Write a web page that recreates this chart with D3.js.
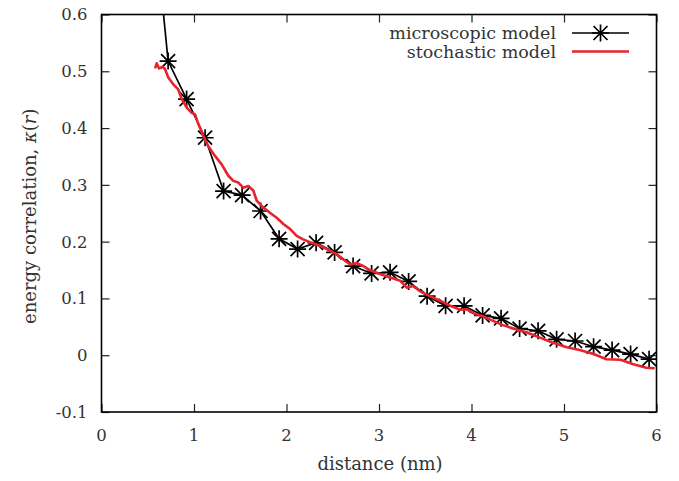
<!DOCTYPE html>
<html>
<head>
<meta charset="utf-8">
<script src="https://cdn.jsdelivr.net/npm/d3@7"></script>
<style>
    body { margin: 0; background: #fff; }
</style>
</head>
<body>
<div id="chart"></div>
<script>
// Define variables
// ============================================================================
const W = 679, H = 481,
    margin = {top: 14.5, right: 22.5, bottom: 69, left: 101.5},
    width = W - margin.left - margin.right,
    height = H - margin.top - margin.bottom;

const xTicks = [0, 1, 2, 3, 4, 5, 6];
const yTicks = [-0.1, 0, 0.1, 0.2, 0.3, 0.4, 0.5, 0.6];
const yTickLabels = ["-0.1", "0", "0.1", "0.2", "0.3", "0.4", "0.5", "0.6"];

// microscopic model (black, stars)
const microX = [0.52, 0.72, 0.92, 1.12, 1.32, 1.52, 1.72, 1.92, 2.12, 2.32, 2.52, 2.72, 2.92, 3.12,
    3.32, 3.52, 3.72, 3.92, 4.12, 4.32, 4.52, 4.72, 4.92, 5.12, 5.32, 5.52, 5.72, 5.92];
const microY = [0.85, 0.518, 0.451, 0.383, 0.289, 0.282, 0.254, 0.205, 0.187, 0.198, 0.181, 0.157, 0.144, 0.146,
    0.130, 0.104, 0.087, 0.087, 0.070, 0.065, 0.047, 0.043, 0.028, 0.025, 0.015, 0.009, 0.002, -0.007];

// stochastic model (red line)
const stochX = [0.578, 0.597, 0.622, 0.661, 0.686, 0.722, 0.776, 0.830, 0.867, 0.921, 0.975, 1.011, 1.047,
    1.101, 1.155, 1.227, 1.299, 1.371, 1.425, 1.479, 1.533, 1.587, 1.641, 1.678, 1.75, 1.82, 1.894, 1.966,
    2.04, 2.11, 2.18, 2.254, 2.326, 2.40, 2.47, 2.54, 2.61, 2.69, 2.76, 2.83, 2.90, 3.01, 3.12, 3.23, 3.30,
    3.37, 3.44, 3.55, 3.66, 3.77, 3.88, 3.95, 4.02, 4.13, 4.24, 4.34, 4.45, 4.60, 4.74, 4.88, 5.03, 5.17,
    5.32, 5.46, 5.61, 5.75, 5.89, 5.98];
const stochY = [0.505, 0.514, 0.505, 0.508, 0.504, 0.489, 0.477, 0.468, 0.451, 0.436, 0.427, 0.424, 0.407,
    0.386, 0.368, 0.351, 0.336, 0.316, 0.307, 0.304, 0.295, 0.298, 0.290, 0.272, 0.260, 0.251, 0.242, 0.231,
    0.222, 0.210, 0.204, 0.199, 0.195, 0.190, 0.184, 0.178, 0.169, 0.160, 0.162, 0.157, 0.150, 0.143, 0.137,
    0.131, 0.119, 0.122, 0.113, 0.104, 0.096, 0.087, 0.080, 0.081, 0.074, 0.068, 0.060, 0.053, 0.047, 0.040,
    0.031, 0.022, 0.014, 0.009, 0.002, -0.007, -0.008, -0.016, -0.022, -0.023];

const micro = microX.map((x, i) => ({x: x, y: microY[i]}));
const stoch = stochX.map((x, i) => ({x: x, y: stochY[i]}));

const red = "#e8232b";
const font = "DejaVu Serif";
const textColor = "#333";

// Plot
// ============================================================================
const svg = d3.select("#chart")
    .append("svg")
        .attr("width", W)
        .attr("height", H)
    .append("g")
        .attr("transform", "translate(" + margin.left + "," + margin.top + ")");

svg.append("clipPath")
    .attr("id", "clip")
    .append("rect")
        .attr("width", width)
        .attr("height", height);

// Create Scales
let xScale = d3.scaleLinear().domain([0, 6]).range([0, width]);
let yScale = d3.scaleLinear().domain([-0.1, 0.6]).range([height, 0]);

// Plot Axes (ticks inside, mirrored)
const tickLen = 8;
svg.append("g")
    .attr("transform", "translate(0," + height + ")")
    .call(d3.axisTop(xScale).tickValues(xTicks).tickSize(tickLen).tickFormat(""));
svg.append("g")
    .call(d3.axisBottom(xScale).tickValues(xTicks).tickSize(tickLen).tickFormat(""));
svg.append("g")
    .call(d3.axisRight(yScale).tickValues(yTicks).tickSize(tickLen).tickFormat(""));
svg.append("g")
    .attr("transform", "translate(" + width + ",0)")
    .call(d3.axisLeft(yScale).tickValues(yTicks).tickSize(tickLen).tickFormat(""));
svg.selectAll(".domain").remove();
svg.selectAll(".tick line").attr("stroke", "#222").attr("stroke-width", 1.2);

// Tick labels
svg.selectAll("x-label")
    .data(xTicks)
    .enter()
    .append("text")
        .attr("x", d => xScale(d))
        .attr("y", height + 29)
        .attr("text-anchor", "middle")
        .attr("font-family", font)
        .attr("font-size", 16.5)
        .attr("fill", textColor)
        .text(d => d);

svg.selectAll("y-label")
    .data(yTicks)
    .enter()
    .append("text")
        .attr("x", -14)
        .attr("y", d => yScale(d))
        .attr("dy", "0.36em")
        .attr("text-anchor", "end")
        .attr("font-family", font)
        .attr("font-size", 16.5)
        .attr("fill", textColor)
        .text((d, i) => yTickLabels[i]);

// Axis titles
svg.append("text")
    .attr("x", width / 2 + 1)
    .attr("y", height + 58)
    .attr("text-anchor", "middle")
    .attr("font-family", font)
    .attr("font-size", 18)
    .attr("fill", textColor)
    .text("distance (nm)");

const yTitle = svg.append("text")
    .attr("transform", "translate(" + (-margin.left + 36) + "," + (height / 2 + 3) + ") rotate(-90)")
    .attr("text-anchor", "middle")
    .attr("font-family", font)
    .attr("font-size", 18)
    .attr("fill", textColor);
yTitle.append("tspan").text("energy correlation, ");
yTitle.append("tspan").attr("font-style", "italic").text("κ");
yTitle.append("tspan").text("(");
yTitle.append("tspan").attr("font-style", "italic").text("r");
yTitle.append("tspan").text(")");

// Plot Data
const plot = svg.append("g").attr("clip-path", "url(#clip)");

const line = d3.line().x(d => xScale(d.x)).y(d => yScale(d.y));

plot.append("path")
    .datum(micro)
    .attr("fill", "none")
    .attr("stroke", "#000")
    .attr("stroke-width", 1.7)
    .attr("d", line);

const star = "M-8.5,0H8.5M0,-8.5V8.5M-7,-7L7,7M-7,7L7,-7";
plot.selectAll("star")
    .data(micro)
    .enter()
    .append("path")
        .attr("transform", d => "translate(" + xScale(d.x) + "," + yScale(d.y) + ")")
        .attr("d", star)
        .attr("stroke", "#000")
        .attr("stroke-width", 1.7);

plot.append("path")
    .datum(stoch)
    .attr("fill", "none")
    .attr("stroke", red)
    .attr("stroke-width", 2.6)
    .attr("stroke-linejoin", "round")
    .attr("d", line);

// Border
svg.append("rect")
    .attr("width", width)
    .attr("height", height)
    .attr("fill", "none")
    .attr("stroke", "#000")
    .attr("stroke-width", 1.6);

// Legend
const legend = [
    {name: "microscopic model", color: "#000", star: true, y: 33 - margin.top},
    {name: "stochastic model", color: red, star: false, y: 51.5 - margin.top},
];
const lx1 = 572 - margin.left, lx2 = 629 - margin.left;
legend.forEach(d => {
    svg.append("text")
        .attr("x", 556 - margin.left)
        .attr("y", d.y)
        .attr("dy", "0.35em")
        .attr("text-anchor", "end")
        .attr("font-family", font)
        .attr("font-size", 17.5)
        .attr("fill", textColor)
        .text(d.name);
    svg.append("line")
        .attr("x1", lx1).attr("x2", lx2)
        .attr("y1", d.y).attr("y2", d.y)
        .attr("stroke", d.color)
        .attr("stroke-width", d.star ? 1.7 : 2.6);
    if (d.star) {
        svg.append("path")
            .attr("transform", "translate(" + ((lx1 + lx2) / 2) + "," + d.y + ")")
            .attr("d", star)
            .attr("stroke", "#000")
            .attr("stroke-width", 1.7);
    }
});
</script>
</body>
</html>
